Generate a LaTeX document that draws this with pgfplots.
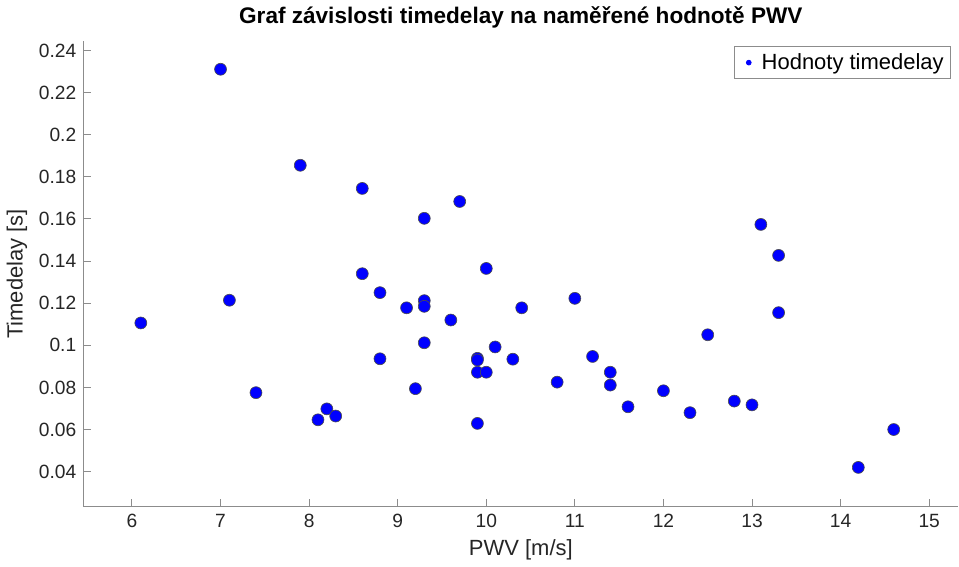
\documentclass[border=0pt]{standalone}
\usepackage{pgfplots}
\pgfplotsset{compat=1.18}
\usepackage{fontspec}
\setmainfont{Liberation Sans}
\definecolor{axgray}{RGB}{140,140,140}
\definecolor{txt}{RGB}{38,38,38}
\begin{document}
\begin{tikzpicture}
\begin{axis}[
    width=438pt, height=233pt,
    scale only axis,
    xmin=5.45, xmax=15.33,
    ymin=0.0233, ymax=0.2444,
    xtick={6,7,...,15},
    ytick={0.04,0.06,...,0.241},
    axis x line*=bottom,
    axis y line*=left,
    axis line style={axgray, line width=0.6pt, -},
    tick style={axgray, line width=0.5pt},
    tick align=inside,
    major tick length=4pt,
    tick label style={font=\fontsize{9.6}{11}\selectfont, text=txt},
    /pgf/number format/assume math mode=true,
    yticklabel style={/pgf/number format/fixed, /pgf/number format/precision=2},
    title={\bfseries Graf závislosti timedelay na naměřené hodnotě PWV},
    title style={font=\fontsize{11.3}{13}\selectfont, yshift=-3pt},
    xlabel={PWV [m/s]},
    ylabel={Timedelay [s]},
    label style={font=\fontsize{11}{13}\selectfont, text=txt},
    xlabel style={yshift=1pt},
    ylabel style={yshift=-1pt},
    legend style={at={(rel axis cs:0.991,0.989)}, anchor=north east,
        draw=axgray, font=\fontsize{11}{13}\selectfont, inner sep=1.2pt,
        legend cell align=left},
    legend image code/.code={\path (0.05cm,0) (0.4cm,0);
        \fill[blue] (0.25cm,0) circle (1.2pt);},
]
\addplot[only marks, mark=*, mark size=3pt,
    mark options={fill=blue, draw=black!70, line width=0.3pt}]
coordinates {
(6.1,0.1106) (7.0,0.2311) (7.1,0.1214) (7.4,0.0775) (7.9,0.1855)
(8.6,0.1745) (8.6,0.1340) (8.1,0.0646) (8.2,0.0698) (8.3,0.0664)
(8.8,0.1250) (8.8,0.0936) (9.1,0.1178) (9.2,0.0794) (9.3,0.1603)
(9.3,0.1212) (9.3,0.1185) (9.3,0.1012) (9.6,0.1120) (9.7,0.1683)
(9.9,0.0938) (9.9,0.0930) (9.9,0.0872) (10.0,0.0872) (9.9,0.0629)
(10.0,0.1365) (10.1,0.0992) (10.3,0.0934) (10.4,0.1178) (10.8,0.0825)
(11.0,0.1223) (11.2,0.0947) (11.4,0.0872) (11.4,0.0811) (11.6,0.0708)
(12.0,0.0784) (12.3,0.0680) (12.5,0.1050) (12.8,0.0735) (13.0,0.0717)
(13.1,0.1574) (13.3,0.1427) (13.3,0.1155) (14.2,0.0420) (14.6,0.0600)
};
\addlegendentry{Hodnoty timedelay}
\end{axis}
\end{tikzpicture}
\end{document}
